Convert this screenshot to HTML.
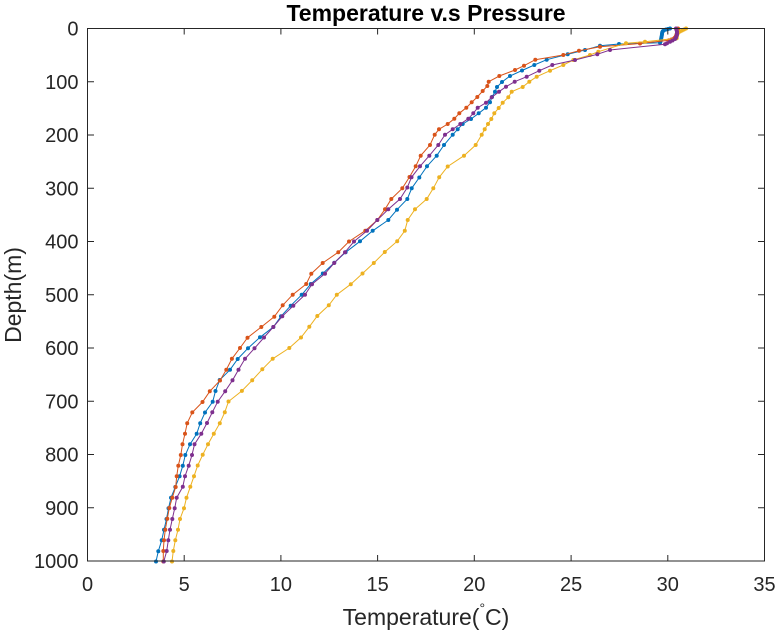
<!DOCTYPE html>
<html>
<head>
<meta charset="utf-8">
<style>
html,body{margin:0;padding:0;background:#fff;}
svg{display:block;}
text{font-family:"Liberation Sans",Arial,sans-serif;fill:#262626;}
</style>
</head>
<body>
<svg width="778" height="636" viewBox="0 0 778 636" xmlns="http://www.w3.org/2000/svg">
<defs>
<marker id="mb" viewBox="-2.2 -2.2 4.4 4.4" refX="0" refY="0" markerWidth="4.4" markerHeight="4.4" markerUnits="userSpaceOnUse"><circle r="2" fill="#0072BD"/></marker>
<marker id="mr" viewBox="-2.2 -2.2 4.4 4.4" refX="0" refY="0" markerWidth="4.4" markerHeight="4.4" markerUnits="userSpaceOnUse"><circle r="2" fill="#D95319"/></marker>
<marker id="my" viewBox="-2.2 -2.2 4.4 4.4" refX="0" refY="0" markerWidth="4.4" markerHeight="4.4" markerUnits="userSpaceOnUse"><circle r="2" fill="#EDB120"/></marker>
<marker id="mp" viewBox="-2.2 -2.2 4.4 4.4" refX="0" refY="0" markerWidth="4.4" markerHeight="4.4" markerUnits="userSpaceOnUse"><circle r="2" fill="#7E2F8E"/></marker>
</defs>
<rect x="0" y="0" width="778" height="636" fill="#fff"/>

<!-- series: blue -->
<polyline fill="none" stroke="#0072BD" stroke-width="1" marker-start="url(#mb)" marker-mid="url(#mb)" marker-end="url(#mb)"
points="670,28.5 668,29 666,29.5 664,30.2 662.8,31.2 662.2,32.5 662,34 661.8,35.5 661.5,37 661.2,38.5 661,40 660.5,41.5 660,42.7 619,44 600,45.7 585,50 567.7,54.3 546.7,59.7 534.3,65 522,70.5 510,76 502,82 497,87 495,91.7 492,97 490,102.3 486,107.7 478.7,113.3 471,119 462.7,124 457.7,129.3 452.7,134.7 444,145 436.7,155.7 427,166.3 419.3,177.5 411.7,188.3 407.3,199 397,209.7 388.3,220 372.7,230.8 360,241.3 345.6,252.3 334.3,262.7 322.8,273.5 310.8,284 301.7,294.8 290.7,305.7 281,316.3 273.3,327 260,337.3 248,348.2 237.7,359 230,369.8 219.7,380 215.5,391 212.7,401.8 205,412.5 200.2,423.2 196.7,433.8 190,444.3 185.3,455 182.8,465.7 179.6,476.2 175.3,487 171,497.7 168.5,508.3 166.5,519 164,529.7 161.7,540.3 158.3,551.3 156,561.5"/>

<!-- series: red -->
<polyline fill="none" stroke="#D95319" stroke-width="1" marker-start="url(#mr)" marker-mid="url(#mr)" marker-end="url(#mr)"
points="678,28.5 678,30 677.5,31.5 677,33 676.5,34.5 676,36 675,37.5 674,38.5 671.5,39.5 669,40.3 640,43.5 600,46.7 579,50.7 563.3,55 535.3,59.7 524,65.7 515,70 499.3,76 488.7,81.7 487.3,86 482.7,91 477.3,97 471.7,102.3 466.3,107.7 459.3,113.3 454.3,118.7 447.7,124 439,129.3 434.7,134.7 430,145 420.7,155.7 415.7,166.3 409.5,177 402.3,188.3 391.3,199 385,209.3 377.3,220 365.3,230.7 349,241.5 338.3,252.2 322.7,263 311.3,273.7 306.2,284 292.7,294.7 282.7,305.3 274.3,316.7 261.3,327 247.5,337.7 240,348 231.9,358.8 226.3,369.7 220,380.5 209.8,391.3 202.5,402 192.3,412.4 187.2,423.2 185,433.7 182.5,444.3 180.8,455 178.3,465.7 176.7,476.3 175.7,487 172.3,497.7 169.3,508 167.3,518.7 165.3,529.7 164,540.3 163.3,551 163.3,561.5"/>

<!-- series: yellow -->
<polyline fill="none" stroke="#EDB120" stroke-width="1" marker-start="url(#my)" marker-mid="url(#my)" marker-end="url(#my)"
points="686,28.5 684,29.5 682,30.5 680,31.5 678.3,32.5 677.5,34 677,35.5 676.7,37 676.7,38.3 645,41.7 626,43.3 598.3,51.7 590,55 573.3,60 563.3,65 550,70.7 536.7,76.7 529.3,81.7 522.7,87 511.7,91.7 508.3,97.3 502.7,102.7 498.7,108 494.3,113.3 491.3,119 488,124 484.7,129.3 481.7,134.7 475.7,145 464,155.7 447.7,166.5 439.2,177.3 433.3,188.3 426.7,199 415,209.3 407.7,220 404.8,230.8 397.2,241.2 384.8,252 373.8,263 362.5,273.5 350.8,284.2 336.8,294.7 328.8,305.3 317.3,316 309.3,326.8 301,337.5 289.3,348 272.7,358.8 262.3,369.3 252.2,380.3 241.9,390.9 228.5,401.5 224.8,412.2 219.8,423.2 213.8,433.7 208,444.2 202.7,454.8 197.7,465.5 194,476.2 190.3,486.8 186.5,497.8 184,508.3 180,519 178,529.7 175.3,540.3 173.3,551 172,561.5"/>

<!-- series: purple -->
<polyline fill="none" stroke="#7E2F8E" stroke-width="1" marker-start="url(#mp)" marker-mid="url(#mp)" marker-end="url(#mp)"
points="676,28.5 676.5,30 677,31.5 677,33 677,34.5 676.5,36 676,37.5 675,39 672.5,40.5 670,41.7 667,43.2 665,44.3 610,50 597.3,54.3 575,60 552.3,65 539.3,70.7 526.7,76.7 514.7,81.7 506,86.7 499,91.7 491.7,97.3 486,102.7 477.7,107.7 473.3,113.3 468.3,118.7 460.3,124 452.7,129.3 445,134.7 438.3,145 429.3,155.7 420,166.3 411.5,177.3 407.3,187.5 400,199 388.3,209.3 377.3,220 367,230.8 354,241.5 345,252.2 334.2,263 325,273.7 312,284.2 305,294.8 293.3,305.7 282.3,316.3 273.3,327 264,337.5 254.5,348.3 245,358.8 238.5,369.7 232.5,380.3 225.2,391.2 217.7,401.7 212.3,412.3 207,423 201.3,433.7 194.5,444.3 192,455 188.7,465.7 185,476.2 182.8,486.8 176.7,497.7 174.7,508.3 172.3,519 170,529.7 168.3,540.3 166.7,551 163.8,561.5"/>

<!-- axes box -->
<rect x="87.5" y="28.5" width="677" height="532.5" fill="none" stroke="#262626" stroke-width="1"/>

<!-- ticks -->
<g stroke="#262626" stroke-width="1">
<!-- x ticks bottom and top -->
<line x1="184.2" y1="561" x2="184.2" y2="555"/><line x1="184.2" y1="28.5" x2="184.2" y2="34.5"/>
<line x1="280.9" y1="561" x2="280.9" y2="555"/><line x1="280.9" y1="28.5" x2="280.9" y2="34.5"/>
<line x1="377.6" y1="561" x2="377.6" y2="555"/><line x1="377.6" y1="28.5" x2="377.6" y2="34.5"/>
<line x1="474.3" y1="561" x2="474.3" y2="555"/><line x1="474.3" y1="28.5" x2="474.3" y2="34.5"/>
<line x1="571.1" y1="561" x2="571.1" y2="555"/><line x1="571.1" y1="28.5" x2="571.1" y2="34.5"/>
<line x1="667.8" y1="561" x2="667.8" y2="555"/><line x1="667.8" y1="28.5" x2="667.8" y2="34.5"/>
<!-- y ticks left and right -->
<line x1="87.5" y1="81.75" x2="94" y2="81.75"/><line x1="764.5" y1="81.75" x2="758" y2="81.75"/>
<line x1="87.5" y1="135" x2="94" y2="135"/><line x1="764.5" y1="135" x2="758" y2="135"/>
<line x1="87.5" y1="188.25" x2="94" y2="188.25"/><line x1="764.5" y1="188.25" x2="758" y2="188.25"/>
<line x1="87.5" y1="241.5" x2="94" y2="241.5"/><line x1="764.5" y1="241.5" x2="758" y2="241.5"/>
<line x1="87.5" y1="294.75" x2="94" y2="294.75"/><line x1="764.5" y1="294.75" x2="758" y2="294.75"/>
<line x1="87.5" y1="348" x2="94" y2="348"/><line x1="764.5" y1="348" x2="758" y2="348"/>
<line x1="87.5" y1="401.25" x2="94" y2="401.25"/><line x1="764.5" y1="401.25" x2="758" y2="401.25"/>
<line x1="87.5" y1="454.5" x2="94" y2="454.5"/><line x1="764.5" y1="454.5" x2="758" y2="454.5"/>
<line x1="87.5" y1="507.75" x2="94" y2="507.75"/><line x1="764.5" y1="507.75" x2="758" y2="507.75"/>
</g>

<!-- x tick labels -->
<g font-size="20" text-anchor="middle">
<text x="87.5" y="591">0</text>
<text x="184.2" y="591">5</text>
<text x="280.9" y="591">10</text>
<text x="377.6" y="591">15</text>
<text x="474.3" y="591">20</text>
<text x="571.1" y="591">25</text>
<text x="667.8" y="591">30</text>
<text x="764.5" y="591">35</text>
</g>

<!-- y tick labels -->
<g font-size="20" text-anchor="end">
<text x="78.5" y="35.7">0</text>
<text x="78.5" y="88.9">100</text>
<text x="78.5" y="142.2">200</text>
<text x="78.5" y="195.4">300</text>
<text x="78.5" y="248.7">400</text>
<text x="78.5" y="301.9">500</text>
<text x="78.5" y="355.2">600</text>
<text x="78.5" y="408.4">700</text>
<text x="78.5" y="461.7">800</text>
<text x="78.5" y="514.9">900</text>
<text x="78.5" y="568.2">1000</text>
</g>

<!-- title -->
<text x="426" y="21" font-size="23" font-weight="bold" text-anchor="middle" style="fill:#000">Temperature v.s Pressure</text>

<!-- x label -->
<text x="426" y="625" font-size="23" text-anchor="middle">Temperature(<tspan font-size="14" dy="-12">°</tspan><tspan dy="12">C)</tspan></text>

<!-- y label -->
<text x="0" y="0" font-size="23" text-anchor="middle" transform="translate(21,295) rotate(-90)">Depth(m)</text>
</svg>
</body>
</html>
